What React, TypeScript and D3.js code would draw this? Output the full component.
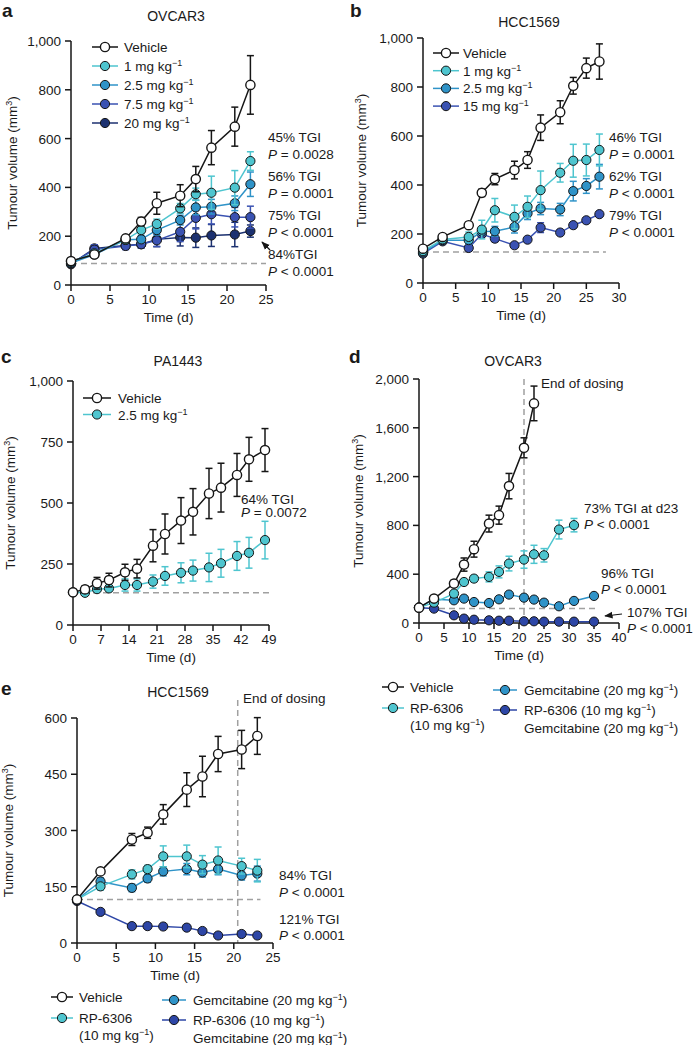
import * as d3 from 'd3';

const FONT = '"Liberation Sans", Arial, Helvetica, sans-serif';

const BLACK = '#161616';
const CYAN = '#4ec5cf';
const MID = '#2f93c8';
const BLUE = '#3a52b2';
const NAVY = '#1c3170';
const COMBO = '#2d46a6';

// a – OVCAR3 dose response
const aDays = [0, 3, 7, 9, 11, 14, 16, 18, 21, 23];
const aVehicle = [98, 125, 191, 260, 335, 366, 434, 563, 649, 820];
const aVehicleErr = [10, 12, 12, 17, 45, 45, 52, 70, 80, 120];
const a1 = [95, 130, 185, 225, 250, 314, 372, 378, 399, 508];
const a1Err = [8, 10, 10, 15, 20, 20, 25, 68, 70, 38];
const a25 = [90, 125, 185, 187, 225, 266, 318, 321, 335, 413];
const a25Err = [8, 10, 10, 15, 20, 20, 30, 30, 30, 50];
const a75 = [88, 145, 160, 167, 183, 218, 275, 290, 278, 278];
const a75Err = [8, 20, 15, 15, 25, 40, 45, 40, 40, 45];
const a20 = [85, 150, 162, 167, 187, 195, 194, 203, 207, 221];
const a20Err = [8, 15, 15, 15, 30, 35, 40, 45, 50, 25];
const aLegend = ['Vehicle', '1 mg kg', '2.5 mg kg', '7.5 mg kg', '20 mg kg'];
const aNotes = [['45% TGI', '= 0.0028'], ['56% TGI', '= 0.0001'], ['75% TGI', '< 0.0001'], ['84%TGI', '< 0.0001']];

// b – HCC1569 dose response
const bDays = [0, 3, 7, 9, 11, 14, 16, 18, 21, 23, 25, 27];
const bVehicle = [140, 188, 236, 368, 424, 461, 502, 634, 697, 805, 877, 904];
const bVehicleErr = [10, 12, 12, 15, 23, 36, 34, 52, 47, 34, 41, 72];
const b1 = [130, 178, 188, 218, 297, 270, 311, 379, 450, 499, 502, 543];
const b1Err = [10, 12, 20, 38, 48, 48, 44, 78, 38, 67, 65, 65];
const b25 = [125, 175, 175, 210, 211, 229, 284, 304, 300, 375, 396, 434];
const b25Err = [10, 10, 15, 15, 20, 25, 25, 25, 25, 40, 30, 50];
const b15 = [120, 170, 143, 200, 181, 154, 177, 226, 206, 236, 256, 281];
const b15Err = [8, 10, 12, 12, 12, 10, 10, 20, 10, 10, 10, 10];
const bLegend = ['Vehicle', '1 mg kg', '2.5 mg kg', '15 mg kg'];
const bNotes = [['46% TGI', '= 0.0001'], ['62% TGI', '< 0.0001'], ['79% TGI', '< 0.0001']];

// c – PA1443
const cDays = [0, 3, 6, 9, 13, 16, 20, 23, 27, 30, 34, 37, 41, 44, 48];
const cVehicle = [134, 146, 171, 184, 216, 231, 325, 373, 428, 464, 539, 563, 615, 679, 717];
const cVehicleErr = [8, 15, 24, 28, 33, 38, 66, 82, 94, 95, 103, 100, 88, 90, 88];
const c25 = [134, 132, 147, 150, 164, 164, 178, 201, 214, 223, 236, 253, 283, 296, 348];
const c25Err = [5, 8, 10, 12, 25, 25, 27, 38, 41, 43, 58, 57, 59, 63, 77];
const cLegend = ['Vehicle', '2.5 mg kg'];
const cNotes = [['64% TGI', '= 0.0072']];

// d – OVCAR3 combination
const dVehDays = [0, 3, 7, 9, 11, 14, 16, 18, 21, 23];
const dVehicle = [126, 200, 323, 479, 605, 815, 884, 1122, 1436, 1800];
const dVehicleErr = [10, 20, 25, 54, 65, 69, 74, 104, 82, 142];
const dRPDays = [0, 3, 7, 9, 11, 14, 16, 18, 21, 23, 25, 28, 31];
const dRP = [126, 167, 241, 336, 364, 378, 419, 487, 520, 563, 555, 766, 802];
const dRPErr = [10, 15, 20, 20, 25, 41, 49, 60, 71, 74, 55, 77, 55];
const dGemDays = [0, 3, 7, 9, 11, 14, 16, 18, 21, 23, 25, 28, 31, 35];
const dGem = [126, 195, 186, 200, 172, 164, 194, 233, 208, 192, 167, 137, 181, 222];
const dGemErr = [10, 15, 15, 15, 15, 15, 15, 15, 15, 15, 15, 15, 15, 15];
const dCombo = [126, 118, 63, 36, 27, 22, 19, 19, 14, 14, 11, 11, 11, 11];
const dComboErr = [8, 8, 8, 8, 6, 6, 6, 6, 6, 6, 6, 6, 6, 6];
const dNotes = [['73% TGI at d23', '< 0.0001'], ['96% TGI', '< 0.0001'], ['107% TGI', '< 0.0001']];

// e – HCC1569 combination
const eDays = [0, 3, 7, 9, 11, 14, 16, 18, 21, 23];
const eVehicle = [116, 191, 276, 294, 343, 409, 444, 504, 516, 552];
const eVehicleErr = [6, 8, 16, 15, 26, 45, 54, 47, 51, 49];
const eRP = [116, 151, 183, 197, 231, 231, 209, 220, 205, 193];
const eRPErr = [5, 10, 12, 10, 28, 30, 24, 36, 21, 30];
const eGem = [116, 164, 147, 172, 191, 197, 188, 197, 180, 185];
const eGemErr = [5, 10, 10, 10, 12, 15, 12, 15, 12, 20];
const eCombo = [112, 83, 45, 45, 44, 41, 32, 20, 24, 20];
const eComboErr = [5, 6, 5, 5, 5, 5, 5, 5, 5, 5];
const eNotes = [['84% TGI', '< 0.0001'], ['121% TGI', '< 0.0001']];

const comboLegend = ['Vehicle', 'RP-6306', '(10 mg kg', 'Gemcitabine (20 mg kg', 'RP-6306 (10 mg kg', 'Gemcitabine (20 mg kg'];

type Series = { days: number[]; vals: number[]; errs: number[]; color: string; open?: boolean };

const mk = (days: number[], vals: number[], errs: number[], color: string, open = false): Series => ({ days, vals, errs, color, open });

type PanelProps = {
  x0: number; x1: number; yb: number; yt: number;
  xMax: number; xStep: number; yMax: number; yStep: number;
  series: Series[];
  base: number; baseEnd: number;
  title: string; titleX: number; titleY: number;
  letter: string; letterX: number; letterY: number;
  yLabelX: number;
  vline?: number; vlineTop?: number;
};

function Panel(p: PanelProps) {
  const x = d3.scaleLinear().domain([0, p.xMax]).range([p.x0, p.x1]);
  const y = d3.scaleLinear().domain([0, p.yMax]).range([p.yb, p.yt]);
  const xt = d3.range(0, p.xMax + 0.01, p.xStep);
  const yt = d3.range(0, p.yMax + 0.01, p.yStep);
  const line = d3.line<[number, number]>().x((d) => x(d[0])).y((d) => y(d[1]));
  const fmt = d3.format(',');
  const drawOrder = [...p.series].reverse();
  return (
    <g>
      <text x={p.letterX} y={p.letterY} fontSize={19} fontWeight={700}>{p.letter}</text>
      <text x={p.titleX} y={p.titleY} fontSize={14} textAnchor="middle">{p.title}</text>
      <line x1={x(0)} x2={x(p.baseEnd)} y1={y(p.base)} y2={y(p.base)} stroke="#a0a0a0" strokeWidth={1.5} strokeDasharray="6,4" />
      {p.vline !== undefined && (
        <line x1={x(p.vline)} x2={x(p.vline)} y1={p.vlineTop} y2={p.yb} stroke="#a0a0a0" strokeWidth={1.5} strokeDasharray="6,4" />
      )}
      {/* axes */}
      <line x1={p.x0} x2={p.x1} y1={p.yb} y2={p.yb} stroke={BLACK} strokeWidth={1.5} />
      <line x1={p.x0} x2={p.x0} y1={p.yb} y2={p.yt} stroke={BLACK} strokeWidth={1.5} />
      {xt.map((t) => (
        <g key={'x' + t}>
          <line x1={x(t)} x2={x(t)} y1={p.yb} y2={p.yb + 6} stroke={BLACK} strokeWidth={1.5} />
          <text x={x(t)} y={p.yb + 19} fontSize={13.5} textAnchor="middle">{t}</text>
        </g>
      ))}
      {yt.map((t) => (
        <g key={'y' + t}>
          <line x1={p.x0 - 6} x2={p.x0} y1={y(t)} y2={y(t)} stroke={BLACK} strokeWidth={1.5} />
          <text x={p.x0 - 10} y={y(t) + 5} fontSize={13.5} textAnchor="end">{fmt(t)}</text>
        </g>
      ))}
      <text x={(p.x0 + p.x1) / 2} y={p.yb + 37} fontSize={13.5} textAnchor="middle">Time (d)</text>
      <text transform={`translate(${p.yLabelX},${(p.yb + p.yt) / 2}) rotate(-90)`} fontSize={13.5} textAnchor="middle">
        Tumour volume (mm<tspan dy={-5} fontSize={9}>3</tspan><tspan dy={5}>)</tspan>
      </text>
      {drawOrder.map((s, si) => {
        const pts = s.days.map((d, i) => [d, s.vals[i]] as [number, number]);
        const c = s.open ? BLACK : s.color;
        return (
          <g key={si}>
            <path d={line(pts) ?? ''} fill="none" stroke={c} strokeWidth={1.5} />
            {pts.map((pt, i) => (
              <g key={i} stroke={c} strokeWidth={1.5}>
                <line x1={x(pt[0])} x2={x(pt[0])} y1={y(pt[1] + s.errs[i])} y2={y(Math.max(0, pt[1] - s.errs[i]))} />
                <line x1={x(pt[0]) - 3.5} x2={x(pt[0]) + 3.5} y1={y(pt[1] + s.errs[i])} y2={y(pt[1] + s.errs[i])} />
                <line x1={x(pt[0]) - 3.5} x2={x(pt[0]) + 3.5} y1={y(Math.max(0, pt[1] - s.errs[i]))} y2={y(Math.max(0, pt[1] - s.errs[i]))} />
              </g>
            ))}
            {pts.map((pt, i) => (
              <circle key={'c' + i} cx={x(pt[0])} cy={y(pt[1])} r={4.6}
                fill={s.open ? '#fff' : s.color} stroke={BLACK} strokeWidth={s.open ? 1.4 : 1} />
            ))}
          </g>
        );
      })}
    </g>
  );
}

function Sup({ t }: { t: string }) {
  return (
    <>
      {t}
      <tspan dy={-5} fontSize={9}>−1</tspan>
    </>
  );
}

function LegendRow({ cx, y, half, color, open, label, sup, tx }: { cx: number; y: number; half: number; color: string; open?: boolean; label: string; sup: boolean; tx: number }) {
  const c = open ? BLACK : color;
  return (
    <g>
      <line x1={cx - half} x2={cx + half} y1={y} y2={y} stroke={c} strokeWidth={1.5} />
      <circle cx={cx} cy={y} r={4.6} fill={open ? '#fff' : color} stroke={BLACK} strokeWidth={open ? 1.4 : 1} />
      <text x={tx} y={y + 5} fontSize={13.5}>
        {sup ? <Sup t={label} /> : label}
        {sup && <tspan dy={5}>{label.includes('(') ? ')' : ''}</tspan>}
      </text>
    </g>
  );
}

function Note({ x, y, lines, gap = 17 }: { x: number; y: number; lines: string[]; gap?: number }) {
  return (
    <g>
      <text x={x} y={y} fontSize={13.5}>{lines[0]}</text>
      <text x={x} y={y + gap} fontSize={13.5}>
        <tspan fontStyle="italic">P</tspan> {lines[1]}
      </text>
    </g>
  );
}

function ComboLegend({ x, y }: { x: number; y: number }) {
  // x,y = centre of vehicle marker
  return (
    <g>
      <LegendRow cx={x} y={y} half={11} color={BLACK} open label={comboLegend[0]} sup={false} tx={x + 17} />
      <LegendRow cx={x} y={y + 21} half={11} color={CYAN} label={comboLegend[1]} sup={false} tx={x + 17} />
      <text x={x + 17} y={y + 43} fontSize={13.5}><Sup t={comboLegend[2]} /><tspan dy={5}>)</tspan></text>
      <LegendRow cx={x + 112} y={y + 3} half={12} color={MID} label={comboLegend[3]} sup tx={x + 131} />
      <LegendRow cx={x + 112} y={y + 23} half={12} color={COMBO} label={comboLegend[4]} sup tx={x + 131} />
      <text x={x + 131} y={y + 46} fontSize={13.5}><Sup t={comboLegend[5]} /><tspan dy={5}>)</tspan></text>
    </g>
  );
}

export default function App() {
  const aColors = [BLACK, CYAN, MID, BLUE, NAVY];
  const bColors = [BLACK, CYAN, MID, BLUE];
  return (
    <svg width={693} height={1045} style={{ position: 'absolute', left: 0, top: 0, background: '#fff' }}
      fontFamily={FONT} fill="#1a1a1a">
      <defs>
        <marker id="arr" viewBox="0 0 10 10" refX={9} refY={5} markerWidth={7} markerHeight={7} orient="auto-start-reverse">
          <path d="M0,1 L10,5 L0,9 z" fill={BLACK} />
        </marker>
      </defs>

      {/* a */}
      <Panel x0={71} x1={266} yb={285} yt={41} xMax={25} xStep={5} yMax={1000} yStep={200}
        series={[mk(aDays, aVehicle, aVehicleErr, BLACK, true), mk(aDays, a1, a1Err, CYAN), mk(aDays, a25, a25Err, MID), mk(aDays, a75, a75Err, BLUE), mk(aDays, a20, a20Err, NAVY)]}
        base={88} baseEnd={25} title="OVCAR3" titleX={176} titleY={21} letter="a" letterX={2} letterY={17} yLabelX={17} />
      {aLegend.map((l, i) => (
        <LegendRow key={l} cx={105} y={47 + i * 19} half={13} color={aColors[i]} open={i === 0} label={l} sup={i > 0} tx={124} />
      ))}
      {aNotes.map((n, i) => (
        <Note key={i} x={268} y={142 + i * 39} lines={n} />
      ))}
      <line x1={270} x2={262} y1={250} y2={242} stroke={BLACK} strokeWidth={1.2} markerEnd="url(#arr)" />

      {/* b */}
      <Panel x0={423} x1={619} yb={283} yt={38} xMax={30} xStep={5} yMax={1000} yStep={200}
        series={[mk(bDays, bVehicle, bVehicleErr, BLACK, true), mk(bDays, b1, b1Err, CYAN), mk(bDays, b25, b25Err, MID), mk(bDays, b15, b15Err, BLUE)]}
        base={127} baseEnd={28} title="HCC1569" titleX={529} titleY={27} letter="b" letterX={350} letterY={17} yLabelX={366} />
      {bLegend.map((l, i) => (
        <LegendRow key={l} cx={446} y={53 + i * 17.7} half={13} color={bColors[i]} open={i === 0} label={l} sup={i > 0} tx={463} />
      ))}
      {bNotes.map((n, i) => (
        <Note key={i} x={609} y={142 + i * 39} lines={n} />
      ))}

      {/* c */}
      <Panel x0={73} x1={269} yb={625} yt={381} xMax={49} xStep={7} yMax={1000} yStep={250}
        series={[mk(cDays, cVehicle, cVehicleErr, BLACK, true), mk(cDays, c25, c25Err, CYAN)]}
        base={132} baseEnd={49} title="PA1443" titleX={178} titleY={366} letter="c" letterX={1} letterY={363} yLabelX={15} />
      {cLegend.map((l, i) => (
        <LegendRow key={l} cx={97} y={398 + i * 16.5} half={14} color={[BLACK, CYAN][i]} open={i === 0} label={l} sup={i > 0} tx={118} />
      ))}
      <Note x={241} y={504} lines={cNotes[0]} gap={13} />

      {/* d */}
      <Panel x0={419} x1={619} yb={623} yt={379} xMax={40} xStep={5} yMax={2000} yStep={400}
        series={[mk(dVehDays, dVehicle, dVehicleErr, BLACK, true), mk(dRPDays, dRP, dRPErr, CYAN), mk(dGemDays, dGem, dGemErr, MID), mk(dGemDays, dCombo, dComboErr, COMBO)]}
        base={118} baseEnd={35.5} title="OVCAR3" titleX={513} titleY={366} letter="d" letterX={349} letterY={363} yLabelX={363}
        vline={21} vlineTop={379} />
      <text x={541} y={388} fontSize={13.5}>End of dosing</text>
      <Note x={584} y={513} lines={dNotes[0]} gap={16} />
      <Note x={601} y={578} lines={dNotes[1]} gap={16} />
      <Note x={627} y={617} lines={dNotes[2]} gap={16} />
      <line x1={622} x2={605} y1={614} y2={616} stroke={BLACK} strokeWidth={1.2} markerEnd="url(#arr)" />
      <ComboLegend x={393} y={687} />

      {/* e */}
      <Panel x0={77} x1={273} yb={943} yt={718} xMax={25} xStep={5} yMax={600} yStep={150}
        series={[mk(eDays, eVehicle, eVehicleErr, BLACK, true), mk(eDays, eRP, eRPErr, CYAN), mk(eDays, eGem, eGemErr, MID), mk(eDays, eCombo, eComboErr, COMBO)]}
        base={116} baseEnd={23.4} title="HCC1569" titleX={178} titleY={697} letter="e" letterX={1} letterY={695} yLabelX={13}
        vline={20.5} vlineTop={700} />
      <text x={243} y={703} fontSize={13.5}>End of dosing</text>
      <Note x={279} y={880} lines={eNotes[0]} gap={17} />
      <Note x={279} y={924} lines={eNotes[1]} gap={16} />
      <ComboLegend x={62} y={997} />
    </svg>
  );
}
